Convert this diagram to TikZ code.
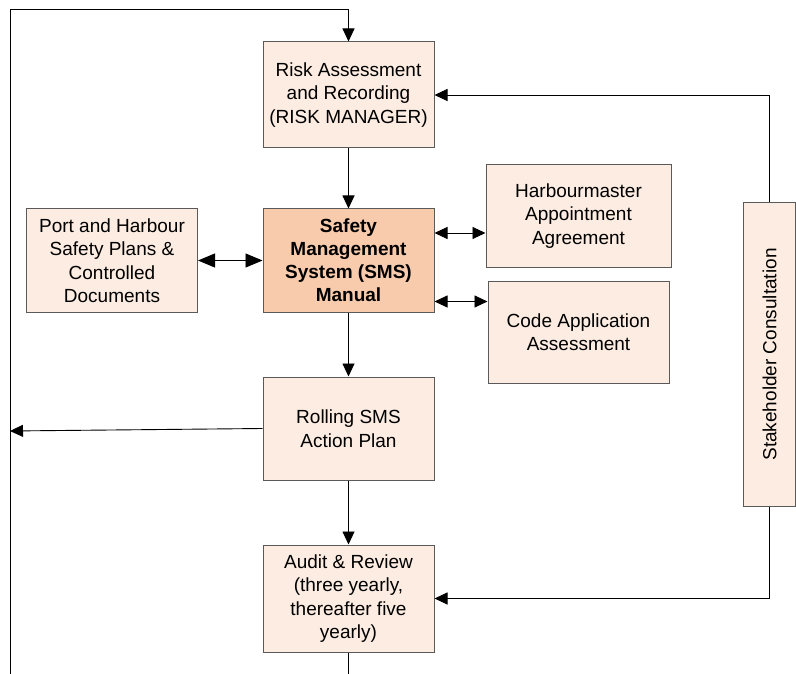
\documentclass[tikz,border=0pt]{standalone}
\usepackage{fontspec}
\setmainfont{Liberation Sans}
\usetikzlibrary{arrows.meta}
\definecolor{lightfill}{HTML}{FCECE1}
\definecolor{smsfill}{HTML}{F8CBAD}
\definecolor{boxline}{HTML}{5A5A5A}
\begin{document}
\begin{tikzpicture}[x=1pt,y=-1pt,
  boxstyle/.style={draw=boxline, line width=1pt, fill=lightfill, rectangle, align=center, inner sep=2pt,
    font=\fontsize{19}{23.5}\selectfont},
  link/.style={draw=black, line width=0.9pt, -{Triangle[length=13pt,width=12pt]}},
  twoway/.style={draw=black, line width=0.9pt, {Triangle[length=13pt,width=12pt]}-{Triangle[length=13pt,width=12pt]}},
  bigtwoway/.style={draw=black, line width=0.9pt, {Triangle[length=17pt,width=14pt]}-{Triangle[length=17pt,width=14pt]}},
  plain/.style={draw=black, line width=0.9pt}
]
\useasboundingbox (0,0) rectangle (796,674);

\node[boxstyle, minimum width=171pt, minimum height=106pt] (risk) at (348.5,95) {Risk Assessment\\and Recording\\(RISK MANAGER)};
\node[boxstyle, fill=smsfill, minimum width=171pt, minimum height=103pt, font=\fontsize{19}{23}\selectfont\bfseries] (sms) at (348.5,260.5) {Safety\\Management\\System (SMS)\\Manual};
\node[boxstyle, minimum width=171pt, minimum height=103pt] (port) at (112,260.5) {Port and Harbour\\Safety Plans \&\\Controlled\\Documents};
\node[boxstyle, minimum width=185pt, minimum height=102pt] (harb) at (578.5,216) {Harbourmaster\\Appointment\\Agreement};
\node[boxstyle, minimum width=181pt, minimum height=102pt] (code) at (578.5,332) {Code Application\\Assessment};
\node[boxstyle, minimum width=171pt, minimum height=103pt] (roll) at (348.5,428.5) {Rolling SMS\\Action Plan};
\node[boxstyle, minimum width=171pt, minimum height=107pt] (audit) at (348.5,598.5) {Audit \& Review\\(three yearly,\\thereafter five\\yearly)};
\node[boxstyle, minimum width=303pt, minimum height=52pt, rotate=90] (stake) at (769.5,354.5) {Stakeholder Consultation};

\coordinate (ya) at (0,233);
\coordinate (yb) at (0,301.5);
\coordinate (leftend) at (10,431);
\coordinate (bl) at (10,674);
\coordinate (tl) at (10,9);
\coordinate (tr) at (348.5,9);
\coordinate (bottomend) at (348.5,674);

\draw[link] (risk) -- (sms);
\draw[link] (sms) -- (roll);
\draw[link] (roll) -- (audit);
\draw[bigtwoway] (port) -- (sms);
\draw[twoway] (sms.east |- ya) -- (harb.west |- ya);
\draw[twoway] (sms.east |- yb) -- (code.west |- yb);
\draw[link] (roll.west) -- (leftend);
\draw[link] (bl) -- (tl) -- (tr) -- (risk.north);
\draw[plain] (audit.south) -- (bottomend);
\draw[link] (stake.east) |- (risk.east);
\draw[link] (stake.west) |- (audit.east);
\end{tikzpicture}
\end{document}
